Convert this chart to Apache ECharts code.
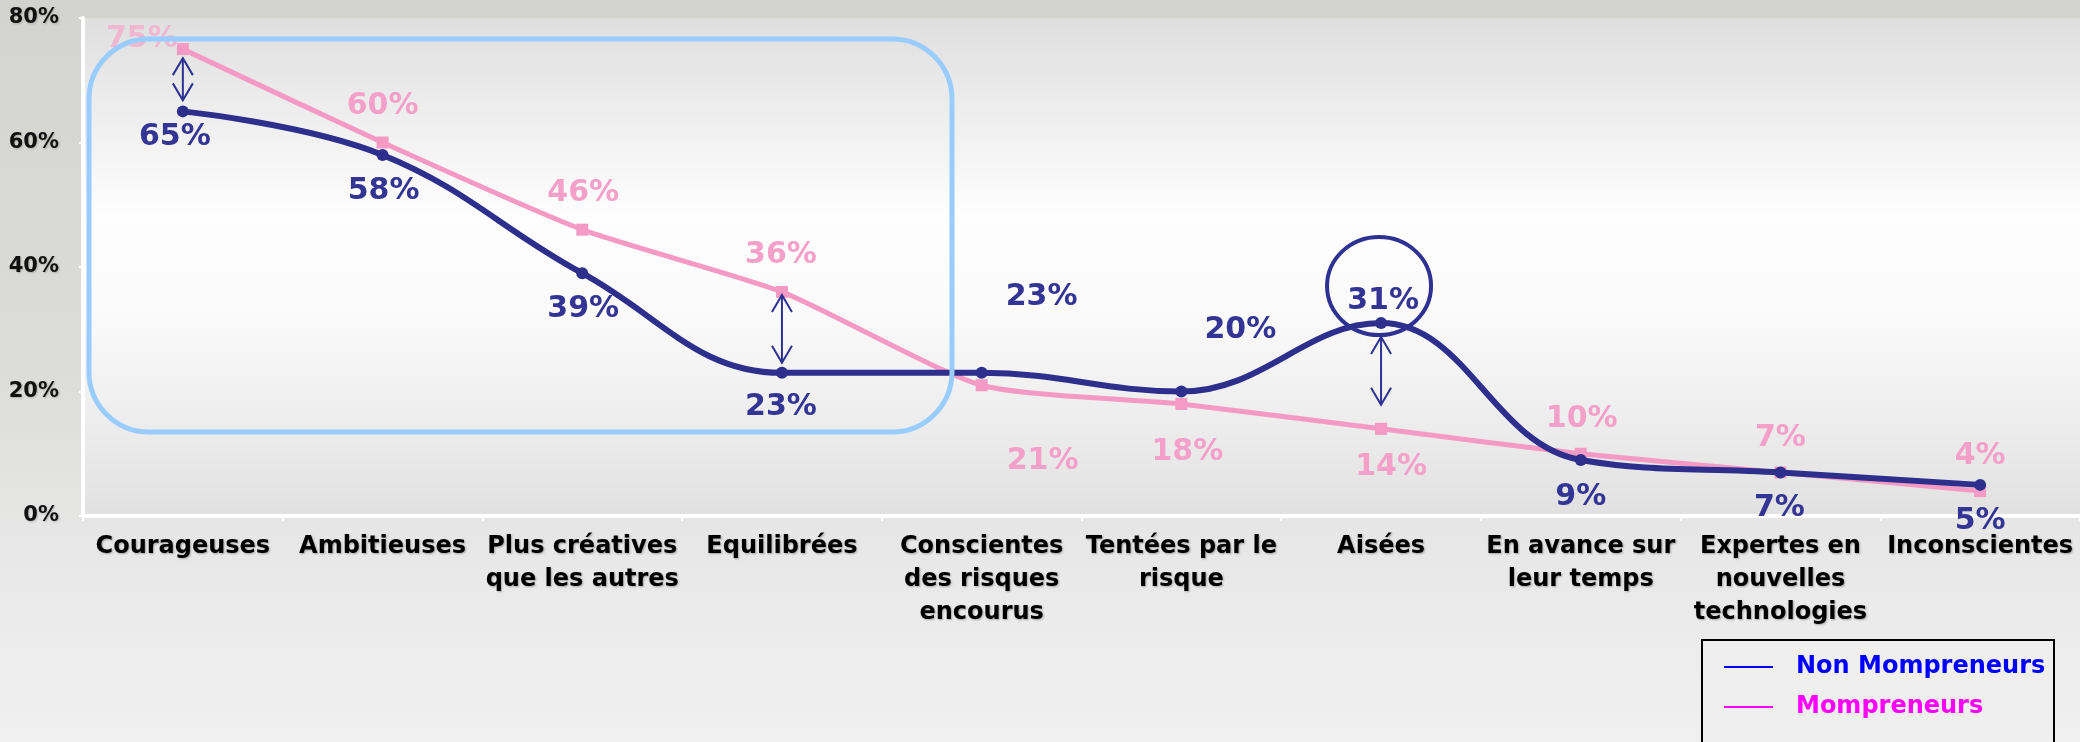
<!DOCTYPE html>
<html>
<head>
<meta charset="utf-8">
<script src="https://cdn.jsdelivr.net/npm/echarts@6/dist/echarts.min.js"></script>
<style>
  html, body { margin: 0; padding: 0; }
  #chart { width: 2080px; height: 742px; }
</style>
</head>
<body>
<div id="chart"></div>
<script>
// * données
const categories = [
    'Courageuses', 'Ambitieuses', 'Plus créatives\nque les autres', 'Equilibrées',
    'Conscientes\ndes risques\nencourus', 'Tentées par le\nrisque', 'Aisées',
    'En avance sur\nleur temps', 'Expertes en\nnouvelles\ntechnologies', 'Inconscientes'
];
const nonMompreneurs = [65, 58, 39, 23, 23, 20, 31, 9, 7, 5];
const mompreneurs = [75, 60, 46, 36, 21, 18, 14, 10, 7, 4];
const yTicks = { min: 0, max: 80, interval: 20 };

// * placement des étiquettes (dx, dy depuis le point)
const navyLabelOffsets = [[-8, 26], [1, 36], [1, 36], [-1, 34], [60, -76], [59, -61], [2, -22], [0, 37], [-1, 36], [0, 36]];
const pinkLabelOffsets = [[-41, -10], [0, -36], [1, -36], [-1, -37], [61, 76], [6, 48], [10, 38], [1, -35], [0, -34], [0, -35]];

// * flèches : catégorie, écart en haut, écart en bas
const arrows = [[0, 9, 11], [3, 3, 10], [6, 14, 24]];

const NAVY = '#2e2e8c';
const PINK = '#f59ac4';
const FONT = 'DejaVu Sans';

let dom = document.getElementById('chart');
let chart = echarts.init(dom);

let option = {
    animation: false,
    backgroundColor: {
        type: 'linear', x: 0, y: 0, x2: 0, y2: 1,
        colorStops: [
            { offset: 0, color: '#d3d3cf' },
            { offset: 0.5, color: '#dcdcda' },
            { offset: 0.75, color: '#e8e8e8' },
            { offset: 1, color: '#f0f0f0' }
        ]
    },
    grid: {
        left: 83, right: -11, top: 18, bottom: 226,
        show: true, borderWidth: 0,
        backgroundColor: {
            type: 'linear', x: 0, y: 0, x2: 0, y2: 1,
            colorStops: [
                { offset: 0, color: '#dfdfdf' },
                { offset: 0.4, color: '#fefefe' },
                { offset: 0.6, color: '#fafafa' },
                { offset: 1, color: '#e1e1e1' }
            ]
        }
    },
    legend: {
        orient: 'vertical', left: 1724, top: 653,
        padding: 0, itemGap: 12,
        itemWidth: 49, itemHeight: 2, icon: 'rect',
        textStyle: { fontFamily: FONT, fontWeight: 'bold', fontSize: 24, lineHeight: 28, padding: [0, 0, 0, 18] },
        data: [
            { name: 'Non Mompreneurs', icon: 'rect', itemStyle: { color: '#0000ff' }, textStyle: { color: '#0000ff' } },
            { name: 'Mompreneurs', icon: 'rect', itemStyle: { color: '#ff00ff' }, textStyle: { color: '#ff00ff' } }
        ]
    },
    xAxis: {
        type: 'category',
        data: categories,
        boundaryGap: true,
        axisLine: { lineStyle: { color: '#ffffff', width: 4 } },
        axisTick: { show: true, length: 5, lineStyle: { color: '#ffffff', width: 2 } },
        axisLabel: {
            interval: 0, margin: 14,
            color: '#000', fontFamily: FONT, fontWeight: 'bold', fontSize: 24, lineHeight: 33,
            textShadowColor: 'rgba(0,0,0,0.3)', textShadowBlur: 2, textShadowOffsetX: 1, textShadowOffsetY: 1
        }
    },
    yAxis: {
        type: 'value',
        min: yTicks.min, max: yTicks.max, interval: yTicks.interval,
        axisLine: { show: true, lineStyle: { color: '#ffffff', width: 4 } },
        axisTick: { show: true, length: 4, lineStyle: { color: '#ffffff', width: 2 } },
        splitLine: { show: false },
        axisLabel: {
            margin: 24, formatter: '{value}%',
            color: '#111', fontFamily: FONT, fontWeight: 'bold', fontSize: 21,
            textShadowColor: 'rgba(0,0,0,0.2)', textShadowBlur: 2, textShadowOffsetX: 1, textShadowOffsetY: 1
        }
    },
    series: [
        {
            name: 'Mompreneurs',
            type: 'line',
            z: 2,
            smooth: 0.2,
            symbol: 'rect',
            symbolSize: 12,
            lineStyle: { width: 5, color: PINK },
            itemStyle: { color: PINK },
            label: {
                show: true, position: 'inside', formatter: '{c}%',
                color: '#f4a0c8', fontFamily: FONT, fontWeight: 'bold', fontSize: 30
            },
            data: mompreneurs.map((v, i) => {
                let item = { value: v, label: { offset: pinkLabelOffsets[i] } };
                if (i === 0) item.label.color = '#efb7d0';
                return item;
            })
        },
        {
            name: 'Non Mompreneurs',
            type: 'line',
            z: 3,
            smooth: 0.4,
            symbol: 'circle',
            symbolSize: 12,
            lineStyle: { width: 6, color: NAVY },
            itemStyle: { color: NAVY },
            label: {
                show: true, position: 'inside', formatter: '{c}%',
                color: '#343494', fontFamily: FONT, fontWeight: 'bold', fontSize: 30
            },
            data: nonMompreneurs.map((v, i) => {
                return { value: v, label: { offset: navyLabelOffsets[i] } };
            })
        }
    ]
};

chart.setOption(option);

// * annotations : cadre, cercle, flèches
let graphics = [];

graphics.push({
    type: 'rect', z: 10, silent: true,
    shape: { x: 89, y: 39, width: 863, height: 393, r: 60 },
    style: { fill: 'none', stroke: '#99ccff', lineWidth: 5 }
});

let peak = chart.convertToPixel({ gridIndex: 0 }, [6, nonMompreneurs[6]]);
graphics.push({
    type: 'ellipse', z: 10, silent: true,
    shape: { cx: peak[0] - 2, cy: peak[1] - 37, rx: 52, ry: 49 },
    style: { fill: 'none', stroke: '#2e3192', lineWidth: 4 }
});

arrows.forEach(a => {
    let i = a[0];
    let p1 = chart.convertToPixel({ gridIndex: 0 }, [i, nonMompreneurs[i]]);
    let p2 = chart.convertToPixel({ gridIndex: 0 }, [i, mompreneurs[i]]);
    let x = p1[0];
    let top = Math.min(p1[1], p2[1]) + a[1];
    let bottom = Math.max(p1[1], p2[1]) - a[2];
    let st = { fill: 'none', stroke: '#2e3192', lineWidth: 2 };
    graphics.push({ type: 'line', z: 10, silent: true, shape: { x1: x, y1: top, x2: x, y2: bottom }, style: st });
    graphics.push({ type: 'polyline', z: 10, silent: true, shape: { points: [[x - 10, top + 17], [x, top], [x + 10, top + 17]] }, style: st });
    graphics.push({ type: 'polyline', z: 10, silent: true, shape: { points: [[x - 10, bottom - 17], [x, bottom], [x + 10, bottom - 17]] }, style: st });
});

// bande grise du haut
graphics.push({
    type: 'rect', z: -1, silent: true,
    shape: { x: 0, y: 0, width: 2080, height: 17 },
    style: { fill: '#d2d2ce' }
});

// cadre de la légende
graphics.push({
    type: 'rect', z: -1, silent: true,
    shape: { x: 1702, y: 640, width: 352, height: 120 },
    style: { fill: '#efefef', stroke: '#000', lineWidth: 2 }
});

chart.setOption({ graphic: graphics });
</script>
</body>
</html>
